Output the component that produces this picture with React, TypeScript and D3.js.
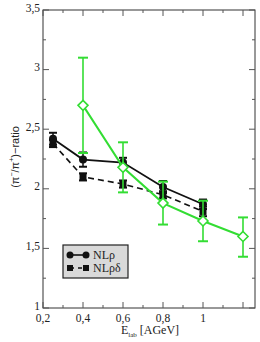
import React, { useEffect, useRef } from 'react';
import { select, scaleLinear, line, range } from 'd3';

// energies [AGeV]
const energiesModel = [0.25, 0.4, 0.6, 0.8, 1.0];
const energiesData = [0.4, 0.6, 0.8, 1.0, 1.2];

// NLrho (solid, circles)
const nlRho = [2.42, 2.245, 2.22, 2.015, 1.87];
const nlRhoErr = [0.05, 0.06, 0.04, 0.05, 0.04];
// NLrho-delta (dashed, squares)
const nlRhoDelta = [2.38, 2.10, 2.04, 1.95, 1.81];
const nlRhoDeltaErr = [0.03, 0.03, 0.03, 0.03, 0.04];
// data (green, open diamonds)
const dataRatio = [2.70, 2.18, 1.88, 1.73, 1.60];
const dataErrUp = [0.40, 0.21, 0.18, 0.17, 0.16];
const dataErrDown = [0.40, 0.21, 0.18, 0.17, 0.17];

const xTicks = [0.2, 0.4, 0.6, 0.8, 1.0];
const yTicks = [1, 1.5, 2, 2.5, 3, 3.5];

const GREEN = '#33dd33';

export default function App() {
  const svgRef = useRef<SVGSVGElement>(null);

  useEffect(() => {
    if (!svgRef.current) return;
    const width = 260;
    const height = 342;
    const margin = { top: 10, right: 5, bottom: 34, left: 43 };
    const svg = select(svgRef.current);
    svg.selectAll('*').remove();

    const x = scaleLinear().domain([0.2, 1.26]).range([margin.left, width - margin.right]);
    const y = scaleLinear().domain([1, 3.5]).range([height - margin.bottom, margin.top]);
    const fmt = (v: number) => String(+v.toFixed(1)).replace('.', ',');

    // frame
    svg.append('rect')
      .attr('x', x(0.2)).attr('y', y(3.5))
      .attr('width', x(1.26) - x(0.2)).attr('height', y(1) - y(3.5))
      .attr('fill', 'white').attr('stroke', '#333').attr('stroke-width', 1);

    const tickCol = '#555';
    // x ticks (inward, bottom and top)
    range(0.2, 1.25, 0.1).forEach((v, i) => {
      const len = i % 2 === 0 ? 6 : 3;
      [[y(1), -len], [y(3.5), len]].forEach(([y0, d]) => {
        svg.append('line')
          .attr('x1', x(v)).attr('x2', x(v))
          .attr('y1', y0).attr('y2', y0 + d)
          .attr('stroke', tickCol);
      });
    });
    // y ticks (inward, left and right)
    range(1, 3.51, 0.25).forEach((v, i) => {
      const len = i % 2 === 0 ? 6 : 3;
      [[x(0.2), len], [x(1.26), -len]].forEach(([x0, d]) => {
        svg.append('line')
          .attr('x1', x0).attr('x2', x0 + d)
          .attr('y1', y(v)).attr('y2', y(v))
          .attr('stroke', tickCol);
      });
    });

    const serif = '"Liberation Serif", "Times New Roman", serif';
    svg.append('g').selectAll('text').data(xTicks).enter().append('text')
      .attr('x', d => x(d)).attr('y', y(1) + 13.5)
      .attr('text-anchor', 'middle')
      .attr('font-family', serif).attr('font-size', 11.5).attr('fill', '#222')
      .text(d => fmt(d));
    svg.append('g').selectAll('text').data(yTicks).enter().append('text')
      .attr('x', x(0.2) - 3).attr('y', d => y(d) + 1.5)
      .attr('text-anchor', 'end')
      .attr('font-family', serif).attr('font-size', 11.5).attr('fill', '#222')
      .text(d => fmt(d));

    // axis titles
    const xl = svg.append('text')
      .attr('x', 150).attr('y', 334)
      .attr('text-anchor', 'middle')
      .attr('font-family', serif).attr('font-size', 12).attr('fill', '#222');
    xl.append('tspan').text('E');
    xl.append('tspan').attr('font-size', 7).attr('dy', 3).text('lab');
    xl.append('tspan').attr('dy', -3).text(' [AGeV]');

    const yl = svg.append('text')
      .attr('transform', `translate(19,${157}) rotate(-90)`)
      .attr('text-anchor', 'middle')
      .attr('font-family', '"Liberation Sans", Arial, sans-serif').attr('font-size', 11).attr('fill', '#222');
    yl.append('tspan').text('(π');
    yl.append('tspan').attr('font-size', 7).attr('dy', -5).text('−');
    yl.append('tspan').attr('dy', 5).text('/π');
    yl.append('tspan').attr('font-size', 7).attr('dy', -5).text('+');
    yl.append('tspan').attr('dy', 5).text(')−ratio');

    const errBar = (g: any, xs: number[], lo: number[], hi: number[], color: string, cap: number, sw: number) => {
      xs.forEach((xv, i) => {
        g.append('line').attr('x1', x(xv)).attr('x2', x(xv)).attr('y1', y(lo[i])).attr('y2', y(hi[i]))
          .attr('stroke', color).attr('stroke-width', sw);
        [lo[i], hi[i]].forEach(v => {
          g.append('line').attr('x1', x(xv) - cap).attr('x2', x(xv) + cap).attr('y1', y(v)).attr('y2', y(v))
            .attr('stroke', color).attr('stroke-width', 2);
        });
      });
    };

    const lineGen = line<[number, number]>().x(d => x(d[0])).y(d => y(d[1]));

    // NLrho-delta dashed
    const gd = svg.append('g');
    gd.append('path')
      .attr('d', lineGen(energiesModel.map((e, i) => [e, nlRhoDelta[i]]) as [number, number][]))
      .attr('fill', 'none').attr('stroke', '#111').attr('stroke-width', 1.6).attr('stroke-dasharray', '6,4');
    errBar(gd, energiesModel, nlRhoDelta.map((v, i) => v - nlRhoDeltaErr[i]), nlRhoDelta.map((v, i) => v + nlRhoDeltaErr[i]), '#111', 4, 1.5);
    gd.selectAll('rect.m').data(energiesModel).enter().append('rect')
      .attr('x', d => x(d) - 3.5).attr('y', (d, i) => y(nlRhoDelta[i]) - 3.5)
      .attr('width', 7).attr('height', 7).attr('fill', '#111');

    // NLrho solid
    const gs = svg.append('g');
    gs.append('path')
      .attr('d', lineGen(energiesModel.map((e, i) => [e, nlRho[i]]) as [number, number][]))
      .attr('fill', 'none').attr('stroke', '#111').attr('stroke-width', 1.8);
    errBar(gs, energiesModel, nlRho.map((v, i) => v - nlRhoErr[i]), nlRho.map((v, i) => v + nlRhoErr[i]), '#111', 4, 1.5);
    gs.selectAll('circle').data(energiesModel).enter().append('circle')
      .attr('cx', d => x(d)).attr('cy', (d, i) => y(nlRho[i])).attr('r', 4).attr('fill', '#111');

    // data green
    const gg = svg.append('g');
    gg.append('path')
      .attr('d', lineGen(energiesData.map((e, i) => [e, dataRatio[i]]) as [number, number][]))
      .attr('fill', 'none').attr('stroke', GREEN).attr('stroke-width', 2);
    errBar(gg, energiesData, dataRatio.map((v, i) => v - dataErrDown[i]), dataRatio.map((v, i) => v + dataErrUp[i]), GREEN, 5, 1.6);
    gg.selectAll('path.d').data(energiesData).enter().append('path')
      .attr('d', (d, i) => {
        const cx = x(d), cy = y(dataRatio[i]), r = 5;
        return `M${cx},${cy - r}L${cx + r},${cy}L${cx},${cy + r}L${cx - r},${cy}Z`;
      })
      .attr('fill', 'white').attr('stroke', GREEN).attr('stroke-width', 1.6);

    // legend
    const lg = svg.append('g').attr('transform', 'translate(63,245)');
    lg.append('rect').attr('width', 65).attr('height', 33)
      .attr('fill', '#d9d9d9').attr('stroke', '#222').attr('stroke-width', 1.2);
    lg.append('line').attr('x1', 7).attr('x2', 23).attr('y1', 10).attr('y2', 10).attr('stroke', '#111').attr('stroke-width', 1.6);
    [7, 23].forEach(cx => lg.append('circle').attr('cx', cx).attr('cy', 10).attr('r', 3.5).attr('fill', '#111'));
    lg.append('line').attr('x1', 7).attr('x2', 23).attr('y1', 23).attr('y2', 23).attr('stroke', '#111').attr('stroke-width', 1.6).attr('stroke-dasharray', '4,4');
    [7, 23].forEach(cx => lg.append('rect').attr('x', cx - 3).attr('y', 20).attr('width', 6).attr('height', 6).attr('fill', '#111'));
    lg.append('text').attr('x', 30).attr('y', 14).attr('font-family', serif).attr('font-size', 12).attr('fill', '#222').text('NLρ');
    lg.append('text').attr('x', 30).attr('y', 27).attr('font-family', serif).attr('font-size', 12).attr('fill', '#222').text('NLρδ');
  }, []);

  return (
    <svg ref={svgRef} width={260} height={342}
      style={{ position: 'absolute', left: 0, top: 0, background: 'white' }} />
  );
}
